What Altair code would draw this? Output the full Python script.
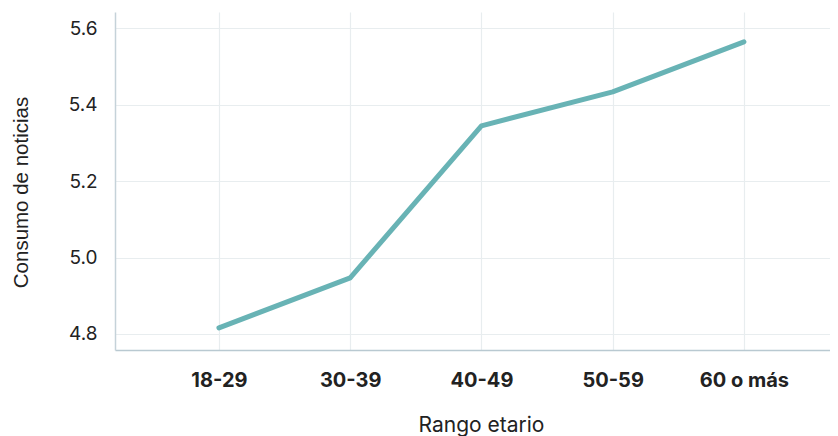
import altair as alt
import pandas as pd

categorias = ["18-29", "30-39", "40-49", "50-59", "60 o más"]
consumo = [4.816, 4.947, 5.345, 5.434, 5.565]

df = pd.DataFrame({"rango": categorias, "consumo": consumo})

chart = alt.Chart(df).mark_line(color="#68b3b5", strokeWidth=5, strokeCap="round", strokeJoin="round").encode(
    x=alt.X("rango:N", sort=categorias,
            scale=alt.Scale(type="point", padding=0.724, align=0.547),
            axis=alt.Axis(title="Rango etario", labelAngle=0, labelFont="Inter", labelFontWeight="bold",
                          labelFontSize=20, labelColor="#222222", labelPadding=20,
                          titleFont="Inter", titleFontSize=21, titleFontWeight="normal", titleColor="#222222",
                          titlePadding=24, titleX=366, ticks=False, domainColor="#b9c9d1", domainWidth=1.5,
                          grid=True, gridColor="#e8edef", gridWidth=1.2)),
    y=alt.Y("consumo:Q", scale=alt.Scale(domain=[4.758, 5.643], nice=False, zero=False),
            axis=alt.Axis(title="Consumo de noticias", values=[4.8, 5.0, 5.2, 5.4, 5.6], format=".1f",
                          labelFont="Inter", labelFontSize=19, labelColor="#222222", labelPadding=18,
                          titleFont="Liberation Sans", titleFontSize=20.5, titleFontWeight="normal",
                          titleColor="#222222", titlePadding=37, titleY=180, ticks=False,
                          domainColor="#c5d2d9", domainWidth=1.5, grid=True, gridColor="#e8edef", gridWidth=1.2)),
).properties(
    width=715, height=338, autosize=alt.AutoSizeParams(type="none"),
    padding={"left": 107, "top": 4, "right": 0, "bottom": 86}
).configure_view(stroke=None)

chart.save("out.html", embed_options={"renderer": "svg", "actions": False})
